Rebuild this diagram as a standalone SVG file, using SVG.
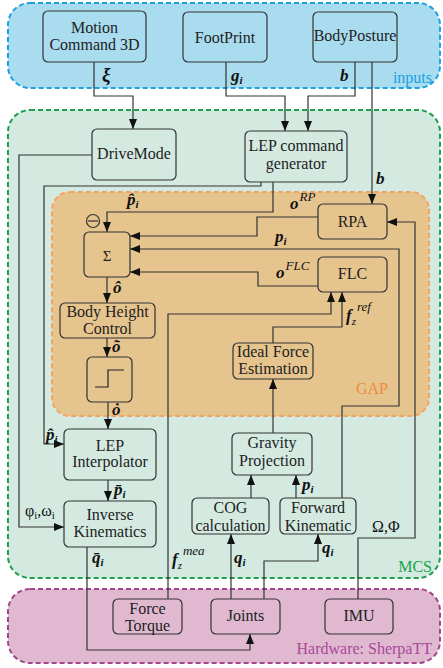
<svg xmlns="http://www.w3.org/2000/svg" width="443" height="668" viewBox="0 0 443 668" font-family="'Liberation Serif', 'Times New Roman', 'DejaVu Serif', serif">
<style>
text{font-family:'Liberation Serif','Times New Roman','DejaVu Serif',serif}
.t{font-size:16px;fill:#222;text-anchor:middle}
.m{font-weight:bold;font-style:italic;font-size:17px;fill:#111}
.s{font-size:11px}
.sp{font-size:13px;font-weight:normal}
.r{font-size:16px;fill:#111}
.node rect{fill:none;stroke:#333;stroke-width:1.2}
.c path{fill:none;stroke:#333;stroke-width:1.2}
.gl{font-size:16px}
</style>
<defs>
<marker id="a" markerUnits="userSpaceOnUse" markerWidth="10" markerHeight="8" refX="10" refY="4" orient="auto">
<path d="M0,0 L10,4 L0,8 z" fill="#111"/>
</marker>
</defs>
<!-- groups -->
<g id="inputs">
<rect x="8" y="3" width="432" height="85" rx="22" fill="#a9dcef" stroke="#1ba1e2" stroke-width="2" stroke-dasharray="5 3"/>
<text class="gl" x="432" y="83" text-anchor="end" fill="#1ba1e2">inputs</text>
</g>
<g id="MCS">
<rect x="8" y="110" width="432" height="468" rx="22" fill="#d4eae1" stroke="#1aa14a" stroke-width="2" stroke-dasharray="5 3"/>
<text class="gl" x="432" y="572" text-anchor="end" fill="#1aa14a">MCS</text>
</g>
<g id="GAP">
<rect x="52" y="192" width="377" height="224" rx="18" fill="#e6c48e" stroke="#f4a460" stroke-width="2" stroke-dasharray="5 3"/>
<text class="gl" x="388" y="394" text-anchor="end" fill="#f08a3c">GAP</text>
</g>
<g id="hardware">
<rect x="8" y="589" width="432" height="74" rx="22" fill="#e0b9d1" stroke="#a0478c" stroke-width="2" stroke-dasharray="5 3"/>
<text class="gl" x="432" y="654" text-anchor="end" fill="#a8489a">Hardware: SherpaTT</text>
</g>
<!-- connectors -->
<g class="c" id="connectors">
<path d="M94,62 V96 H133 V129" marker-end="url(#a)"/>
<path d="M226,62 V96 H285 V131" marker-end="url(#a)"/>
<path d="M355,62 V96 H308 V131" marker-end="url(#a)"/>
<path d="M372,62 V204" marker-end="url(#a)"/>
<path d="M92,155 H19 V527 H64" marker-end="url(#a)"/>
<path d="M261,182 V186 H44 V444 H64" marker-end="url(#a)"/>
<path d="M273,182 V212 H107 V232" marker-end="url(#a)"/>
<path d="M318,217 H257 V236 H130" marker-end="url(#a)"/>
<path d="M342,498 V406 H399 V249 H130" marker-end="url(#a)"/>
<path d="M318,286 H258 V272 H130" marker-end="url(#a)"/>
<path d="M168,599 V314 H331 V292" marker-end="url(#a)"/>
<path d="M273,343 V327 H342 V292" marker-end="url(#a)"/>
<path d="M273,433 V379" marker-end="url(#a)"/>
<path d="M251,498 V475" marker-end="url(#a)"/>
<path d="M296,498 V475" marker-end="url(#a)"/>
<path d="M231,599 V534" marker-end="url(#a)"/>
<path d="M264,599 V561 H318 V534" marker-end="url(#a)"/>
<path d="M87,547 V650 H250 V634" marker-end="url(#a)"/>
<path d="M358,599 V538 H415 V222 H387" marker-end="url(#a)"/>
<path d="M107,277 V303" marker-end="url(#a)"/>
<path d="M107,338 V357" marker-end="url(#a)"/>
<path d="M108,402 V429" marker-end="url(#a)"/>
<path d="M108,480 V501" marker-end="url(#a)"/>
<circle cx="93" cy="221" r="6.5" fill="none" stroke="#333" stroke-width="1.2"/>
<path d="M88,221 H98"/>
</g>
<!-- connector labels -->
<g id="labels">
<text class="m" x="102" y="81" style="font-size:19px">ξ</text>
<text class="m" x="231" y="81">g<tspan class="s" dy="3">i</tspan></text>
<text class="m" x="340" y="81">b</text>
<text class="m" x="376" y="184">b</text>
<text class="m" x="127" y="205">p̂<tspan class="s" dy="3">i</tspan></text>
<text class="m" x="290" y="209">o<tspan class="sp" dy="-8" dx="1">RP</tspan></text>
<text class="m" x="275" y="242">p<tspan class="s" dy="3">i</tspan></text>
<text class="m" x="276" y="278">o<tspan class="sp" dy="-8" dx="1">FLC</tspan></text>
<text class="m" x="346" y="321">f<tspan class="s" dy="4" font-weight="normal">z</tspan><tspan class="sp" dy="-14" dx="1">ref</tspan></text>
<text class="m" x="172" y="565">f<tspan class="s" dy="4" font-weight="normal">z</tspan><tspan class="sp" dy="-14" dx="1">mea</tspan></text>
<text class="m" x="113" y="293">ô</text>
<text class="m" x="112" y="352">õ</text>
<text class="m" x="112" y="415">ȯ</text>
<text class="m" x="46" y="440">p̂<tspan class="s" dy="3">i</tspan></text>
<text class="m" x="114" y="495">p̄<tspan class="s" dy="3">i</tspan></text>
<text class="r" x="25" y="516">φ<tspan class="s" dy="3">i</tspan><tspan dy="-3">,ω</tspan><tspan class="s" dy="3">i</tspan></text>
<text class="m" x="92" y="563">q̄<tspan class="s" dy="3">i</tspan></text>
<text class="m" x="302" y="490">p<tspan class="s" dy="3">i</tspan></text>
<text class="m" x="234" y="563">q<tspan class="s" dy="3">i</tspan></text>
<text class="m" x="322" y="553">q<tspan class="s" dy="3">i</tspan></text>
<text class="r" x="372" y="532">Ω,Φ</text>
</g>
<!-- nodes -->
<g class="node" id="motion"><rect x="43" y="11" width="103" height="51" rx="5"/><text class="t" x="94.5" y="33">Motion</text><text class="t" x="94.5" y="50">Command 3D</text></g>
<g class="node" id="footprint"><rect x="183" y="12" width="84" height="50" rx="5"/><text class="t" x="225" y="43">FootPrint</text></g>
<g class="node" id="bodyposture"><rect x="313" y="12" width="84" height="50" rx="5"/><text class="t" x="355" y="41">BodyPosture</text></g>
<g class="node" id="drivemode"><rect x="92" y="129" width="84" height="51" rx="5"/><text class="t" x="134" y="159">DriveMode</text></g>
<g class="node" id="lepcmd"><rect x="245" y="131" width="102" height="51" rx="5"/><text class="t" x="296" y="151">LEP command</text><text class="t" x="296" y="169">generator</text></g>
<g class="node" id="rpa"><rect x="318" y="204" width="69" height="35" rx="5"/><text class="t" x="352.5" y="227">RPA</text></g>
<g class="node" id="flc"><rect x="318" y="257" width="69" height="35" rx="5"/><text class="t" x="352.5" y="279">FLC</text></g>
<g class="node" id="sigma"><rect x="84" y="232" width="46" height="45" rx="5"/><text class="t" x="107" y="261" style="font-size:15px">Σ</text></g>
<g class="node" id="bhc"><rect x="60" y="303" width="95" height="35" rx="5"/><text class="t" x="107.5" y="317">Body Height</text><text class="t" x="107.5" y="334">Control</text></g>
<g class="node" id="step"><rect x="87" y="357" width="45" height="45" rx="5"/><path d="M95,387 H108 V370 H124" fill="none" stroke="#222" stroke-width="1.2"/></g>
<g class="node" id="ife"><rect x="233" y="343" width="80" height="36" rx="5"/><text class="t" x="273" y="357">Ideal Force</text><text class="t" x="273" y="374">Estimation</text></g>
<g class="node" id="lepint"><rect x="64" y="429" width="92" height="51" rx="5"/><text class="t" x="110" y="451">LEP</text><text class="t" x="110" y="467">Interpolator</text></g>
<g class="node" id="gravity"><rect x="232" y="433" width="80" height="42" rx="5"/><text class="t" x="272" y="448">Gravity</text><text class="t" x="272" y="466">Projection</text></g>
<g class="node" id="ik"><rect x="64" y="501" width="92" height="46" rx="5"/><text class="t" x="110" y="520">Inverse</text><text class="t" x="110" y="537">Kinematics</text></g>
<g class="node" id="cog"><rect x="192" y="498" width="77" height="36" rx="5"/><text class="t" x="230.5" y="513">COG</text><text class="t" x="230.5" y="531">calculation</text></g>
<g class="node" id="fk"><rect x="280" y="498" width="76" height="36" rx="5"/><text class="t" x="318" y="513">Forward</text><text class="t" x="318" y="531">Kinematic</text></g>
<g class="node" id="ft"><rect x="113" y="599" width="69" height="35" rx="5"/><text class="t" x="147.5" y="614">Force</text><text class="t" x="147.5" y="631">Torque</text></g>
<g class="node" id="joints"><rect x="211" y="599" width="69" height="35" rx="5"/><text class="t" x="245.5" y="621">Joints</text></g>
<g class="node" id="imu"><rect x="325" y="599" width="68" height="35" rx="5"/><text class="t" x="359" y="621">IMU</text></g>
</svg>
